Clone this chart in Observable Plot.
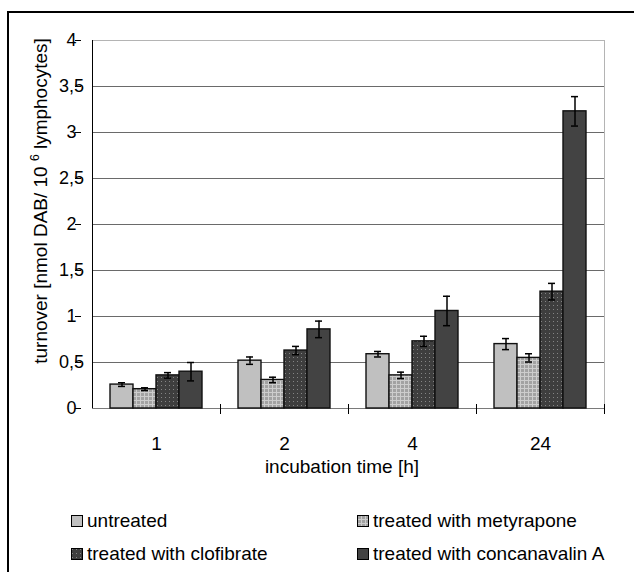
<!DOCTYPE html>
<html>
<head>
<meta charset="utf-8">
<script src="https://cdn.jsdelivr.net/npm/d3@7"></script>
<script src="https://cdn.jsdelivr.net/npm/@observablehq/plot@0.6"></script>
<style>
  html, body { margin: 0; padding: 0; background: #fff; }
  #wrap { position: relative; width: 634px; height: 572px; overflow: hidden; background: #fff;
          font-family: "Liberation Sans", Arial, Helvetica, sans-serif; color: #000; }
  #frame { position: absolute; left: 7px; top: 11px; width: 700px; height: 700px;
           border-top: 2px solid #000; border-left: 2px solid #000; pointer-events: none; }
  #chart { position: absolute; left: 0; top: 0; }
  .leg { position: absolute; display: flex; align-items: center; height: 24px; font-size: 19px; white-space: nowrap; }
  .leg svg { margin-right: 4px; display: block; }
</style>
</head>
<body>
<div id="wrap">
  <div id="chart"></div>
  <div id="legend"></div>
  <div id="frame"></div>
</div>
<script>
// ---- data ----
const times = ["1", "2", "4", "24"];
const seriesNames = ["untreated", "treated with metyrapone", "treated with clofibrate", "treated with concanavalin A"];
const untreated = [0.26, 0.52, 0.59, 0.70];
const untreatedErr = [0.02, 0.04, 0.03, 0.06];
const metyrapone = [0.21, 0.31, 0.36, 0.55];
const metyraponeErr = [0.015, 0.03, 0.035, 0.045];
const clofibrate = [0.36, 0.63, 0.73, 1.27];
const clofibrateErr = [0.03, 0.045, 0.055, 0.09];
const concanavalin = [0.40, 0.86, 1.06, 3.23];
const concanavalinErr = [0.10, 0.09, 0.16, 0.16];
const yTicks = [0, 0.5, 1, 1.5, 2, 2.5, 3, 3.5, 4];
const seriesFills = ["#c0c0c0", "url(#pMet)", "url(#pClo)", "#434343"];
const yTitle = ["turnover [nmol DAB/ 10 ", "6", " lymphocytes]"];
const xTitle = "incubation time [h]";

const valuesBySeries = [untreated, metyrapone, clofibrate, concanavalin];
const errBySeries = [untreatedErr, metyraponeErr, clofibrateErr, concanavalinErr];
const data = [];
times.forEach((t, i) => seriesNames.forEach((s, j) => {
  data.push({time: t, series: s, value: valuesBySeries[j][i], err: errBySeries[j][i]});
}));
const fmt = d => String(d).replace(".", ",");

const chart = Plot.plot({
  width: 634,
  height: 480,
  marginLeft: 92,
  marginRight: 30,
  marginTop: 40,
  marginBottom: 72,
  style: {fontFamily: '"Liberation Sans", Arial, Helvetica, sans-serif', fontSize: "17px", background: "transparent", color: "#000"},
  fx: {domain: times, padding: 0, label: null},
  x: {domain: seriesNames, paddingInner: 0, paddingOuter: 0.745, axis: null},
  y: {domain: [0, 4], label: null},
  color: {domain: seriesNames, range: seriesFills},
  marks: [
    Plot.gridY(yTicks.filter(d => d > 0 && d < 4), {stroke: "#6a6a6a", strokeOpacity: 1}),
    Plot.ruleY([4], {stroke: "#b4b4b4"}),
    Plot.ruleY([0], {stroke: "#7a7a7a"}),
    Plot.barY(data, {fx: "time", x: "series", y: "value", fill: "series", stroke: "#111", strokeWidth: 1.4}),
    Plot.ruleX(data, {fx: "time", x: "series", y1: d => d.value - d.err, y2: d => d.value + d.err, stroke: "#000", strokeWidth: 1.5}),
    Plot.tickY(data, {fx: "time", x: "series", y: d => d.value - d.err, insetLeft: 8, insetRight: 8, stroke: "#000", strokeWidth: 1.5}),
    Plot.tickY(data, {fx: "time", x: "series", y: d => d.value + d.err, insetLeft: 8, insetRight: 8, stroke: "#000", strokeWidth: 1.5}),
    Plot.axisY(yTicks, {tickFormat: fmt, tickSize: 6, tickPadding: 4, textAnchor: "middle", dx: -11, label: null, fontSize: 18}),
    Plot.axisFx({anchor: "bottom", tickSize: 0, tickPadding: 28, label: null, fontSize: 19})
  ]
});
document.getElementById("chart").appendChild(chart);

// pattern fills
const svg = d3.select(chart);
const defs = svg.insert("defs", ":first-child");
const pMet = defs.append("pattern").attr("id", "pMet").attr("width", 4).attr("height", 4).attr("patternUnits", "userSpaceOnUse");
pMet.append("rect").attr("width", 4).attr("height", 4).attr("fill", "#a2a2a2");
pMet.append("rect").attr("width", 4).attr("height", 1).attr("fill", "#cdcdcd");
pMet.append("rect").attr("width", 1).attr("height", 4).attr("fill", "#cdcdcd");
const pClo = defs.append("pattern").attr("id", "pClo").attr("width", 4).attr("height", 4).attr("patternUnits", "userSpaceOnUse");
pClo.append("rect").attr("width", 4).attr("height", 4).attr("fill", "#3e3e3e");
pClo.append("rect").attr("x", 1).attr("y", 1).attr("width", 1).attr("height", 1).attr("fill", "#858585");

// scales from the plot
const fxs = chart.scale("fx");
const ys = chart.scale("y");
const fxScale = d3.scaleBand(fxs.domain, fxs.range).paddingInner(fxs.paddingInner || 0).paddingOuter(fxs.paddingOuter || 0).align(fxs.align ?? 0.5);
const yScale = d3.scaleLinear(ys.domain, ys.range);
const x0 = fxScale.range()[0], x1 = fxScale.range()[1];
const extra = svg.append("g");
// right border of plot area
extra.append("line").attr("x1", x1 + 0.5).attr("x2", x1 + 0.5).attr("y1", yScale(4)).attr("y2", yScale(0)).attr("stroke", "#b4b4b4");
// y axis line
extra.append("line").attr("x1", x0 + 0.5).attr("x2", x0 + 0.5).attr("y1", yScale(4)).attr("y2", yScale(0)).attr("stroke", "#000");
// category separator ticks
const bounds = fxs.domain.map(d => fxScale(d)).concat([fxScale(fxs.domain[fxs.domain.length - 1]) + fxScale.bandwidth()]);
bounds.slice(1).forEach(b => {
  extra.append("line").attr("x1", b + 0.5).attr("x2", b + 0.5).attr("y1", yScale(0) - 4).attr("y2", yScale(0) + 6).attr("stroke", "#000");
});
// y title
const yt = svg.append("text")
  .attr("transform", `translate(47,201) rotate(-90)`)
  .attr("text-anchor", "middle")
  .attr("font-size", 19)
  .attr("fill", "#000");
yt.append("tspan").text(yTitle[0]);
yt.append("tspan").attr("dy", -8).attr("font-size", 12).text(yTitle[1]);
yt.append("tspan").attr("dy", 8).text(yTitle[2]);
// x title
svg.append("text")
  .attr("x", (x0 + x1) / 2 - 6)
  .attr("y", 473)
  .attr("text-anchor", "middle")
  .attr("font-size", 19)
  .attr("fill", "#000")
  .text(xTitle);

// legend
const legend = document.getElementById("legend");
const legPos = [[71, 509], [357, 509], [71, 542], [357, 542]];
seriesNames.forEach((s, i) => {
  const item = document.createElement("div");
  item.className = "leg";
  item.style.left = legPos[i][0] + "px";
  item.style.top = legPos[i][1] + "px";
  item.innerHTML = `<svg width="12" height="12"><rect x="0.5" y="0.5" width="11" height="11" fill="${seriesFills[i]}" stroke="#000"/></svg><span></span>`;
  item.querySelector("span").textContent = s;
  legend.appendChild(item);
});
</script>
</body>
</html>
